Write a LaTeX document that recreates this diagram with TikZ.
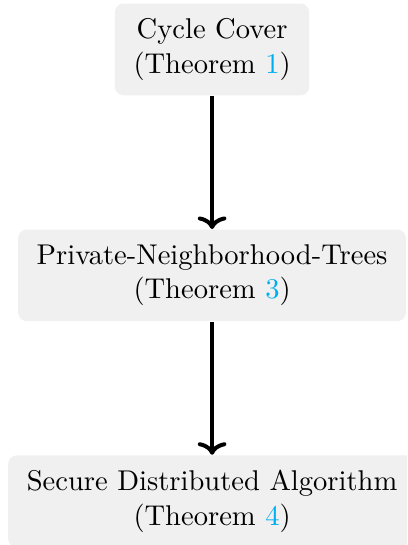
\documentclass[tikz,border=0pt]{standalone}
\usetikzlibrary{positioning,arrows.meta}
\definecolor{thmcyan}{RGB}{0,174,239}
\definecolor{boxgray}{RGB}{240,240,240}
\tikzset{
  thmbox/.style={fill=boxgray,rounded corners=3pt,align=center,inner xsep=6.5pt,inner ysep=5.3pt},
  thmarrow/.style={-{To[width=10pt,length=4.4pt]},line width=1.4pt}
}
\newcommand{\thmref}[1]{(Theorem \textcolor{thmcyan}{#1})}
\begin{document}
\begin{tikzpicture}[node distance=46.6pt]
\useasboundingbox (0,0) rectangle (142.5pt,-190.8pt);
\clip (0,0) rectangle (142.5pt,-190.8pt);
\node[thmbox] (cover) at (74.25pt,-17.3pt) {Cycle Cover\\\thmref{1}};
\node[thmbox,below=of cover] (trees) {Private-Neighborhood-Trees\\\thmref{3}};
\node[thmbox,below=of trees] (secure) {Secure Distributed Algorithm\\\thmref{4}};
\draw[thmarrow] (cover) -- (trees);
\draw[thmarrow] (trees) -- (secure);
\end{tikzpicture}
\end{document}
